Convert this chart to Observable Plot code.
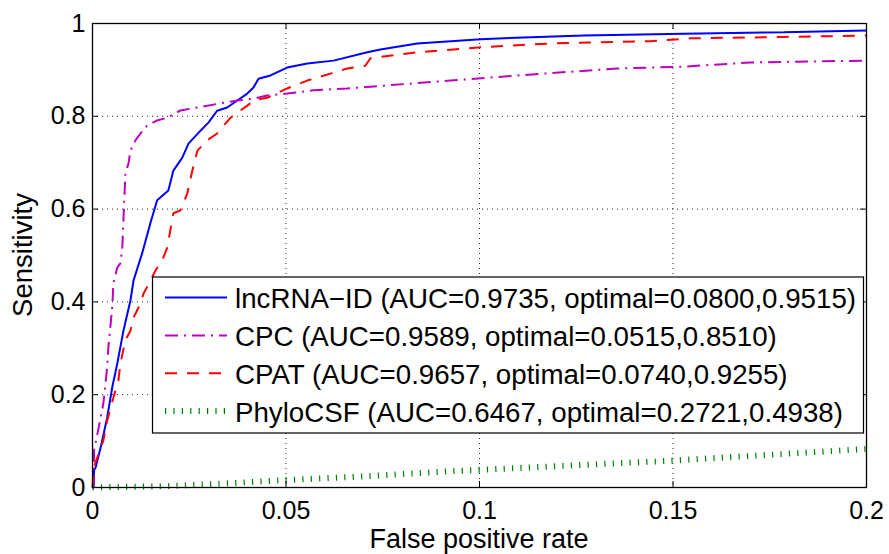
<!DOCTYPE html>
<html>
<head>
<meta charset="utf-8">
<script src="https://cdn.jsdelivr.net/npm/d3@7"></script>
<script src="https://cdn.jsdelivr.net/npm/@observablehq/plot@0.6"></script>
<style>
  html, body { margin: 0; padding: 0; background: #fff; }
  #chart { position: relative; width: 889px; height: 554px; }
</style>
</head>
<body>
<div id="chart"></div>
<script>
// ---- data ----
const seriesNames = ["lncRNA−ID (AUC=0.9735, optimal=0.0800,0.9515)",
                     "CPC (AUC=0.9589, optimal=0.0515,0.8510)",
                     "CPAT (AUC=0.9657, optimal=0.0740,0.9255)",
                     "PhyloCSF (AUC=0.6467, optimal=0.2721,0.4938)"];
const seriesKeys = ["lncRNA-ID", "CPC", "CPAT", "PhyloCSF"];

const fprLnc = [0, 0.0003, 0.0004, 0.0008, 0.0021, 0.0038, 0.0051, 0.0064, 0.0080, 0.0098, 0.0106, 0.0128, 0.0150, 0.0167, 0.0196, 0.0209, 0.0232, 0.0248, 0.0279, 0.0300, 0.0322, 0.0348, 0.0374, 0.0400, 0.0416, 0.0429, 0.0460, 0.0503, 0.0555, 0.0623, 0.0710, 0.0744, 0.0839, 0.1003, 0.1114, 0.1269, 0.1527, 0.1786, 0.2];
const tprLnc = [0, 0.001, 0.037, 0.043, 0.086, 0.151, 0.216, 0.267, 0.338, 0.403, 0.446, 0.504, 0.571, 0.619, 0.640, 0.683, 0.711, 0.741, 0.769, 0.787, 0.812, 0.819, 0.834, 0.849, 0.862, 0.881, 0.888, 0.905, 0.914, 0.920, 0.938, 0.944, 0.957, 0.966, 0.970, 0.974, 0.978, 0.981, 0.985];

const fprCpc = [0, 0.0003, 0.0004, 0.0016, 0.0028, 0.0038, 0.0041, 0.0051, 0.0054, 0.0064, 0.0072, 0.0077, 0.0085, 0.0093, 0.0098, 0.0111, 0.0124, 0.0141, 0.0167, 0.0193, 0.0227, 0.0271, 0.0331, 0.0374, 0.0416, 0.0451, 0.0503, 0.0571, 0.0658, 0.0752, 0.0925, 0.1097, 0.1356, 0.1527, 0.170, 0.2];
const tprCpc = [0, 0.0, 0.080, 0.129, 0.181, 0.259, 0.302, 0.388, 0.440, 0.474, 0.483, 0.517, 0.677, 0.698, 0.726, 0.748, 0.763, 0.780, 0.791, 0.797, 0.8125, 0.819, 0.828, 0.834, 0.838, 0.845, 0.849, 0.856, 0.860, 0.866, 0.877, 0.888, 0.903, 0.907, 0.916, 0.920];

const fprCpat = [0, 0.0003, 0.0016, 0.0028, 0.0038, 0.0054, 0.0067, 0.0072, 0.0085, 0.0098, 0.0106, 0.0119, 0.0132, 0.0150, 0.0163, 0.0180, 0.0193, 0.0209, 0.0227, 0.0245, 0.0258, 0.0271, 0.0296, 0.0322, 0.0339, 0.0357, 0.0382, 0.0400, 0.0416, 0.0451, 0.0503, 0.0555, 0.0615, 0.0658, 0.0705, 0.0718, 0.0839, 0.1010, 0.1183, 0.1442, 0.1545, 0.1786, 0.2];
const tprCpat = [0, 0.043, 0.073, 0.101, 0.144, 0.194, 0.231, 0.267, 0.317, 0.338, 0.366, 0.388, 0.418, 0.446, 0.468, 0.489, 0.517, 0.591, 0.597, 0.634, 0.683, 0.726, 0.748, 0.763, 0.780, 0.797, 0.8125, 0.823, 0.834, 0.840, 0.860, 0.877, 0.892, 0.903, 0.909, 0.925, 0.938, 0.949, 0.957, 0.962, 0.968, 0.971, 0.974];

const fprPhylo = [0, 0.005, 0.02, 0.03, 0.04, 0.05, 0.06, 0.07, 0.08, 0.09, 0.1, 0.11, 0.12, 0.13, 0.14, 0.15, 0.16, 0.17, 0.18, 0.19, 0.2];
const tprPhylo = [0, 0.001, 0.003, 0.007, 0.011, 0.016, 0.020, 0.024, 0.029, 0.034, 0.038, 0.042, 0.046, 0.050, 0.054, 0.058, 0.063, 0.068, 0.073, 0.078, 0.083];

const xTicks = [0, 0.05, 0.1, 0.15, 0.2];
const xTickLabels = ["0", "0.05", "0.1", "0.15", "0.2"];
const yTicks = [0, 0.2, 0.4, 0.6, 0.8, 1];
const yTickLabels = ["0", "0.2", "0.4", "0.6", "0.8", "1"];
const xLabel = "False positive rate";
const yLabel = "Sensitivity";

// ---- styles ----
const colors = ["#0000ff", "#bf00bf", "#ff0000", "#008000"];
const dashes = [null, "13,6,2,6", "12,10", "1.2,7.2"];
const widths = [2, 2, 2, 6];

const toRows = (xs, ys, key) => xs.map((x, i) => ({x, y: ys[i], key}));
const lineData = [
  toRows(fprLnc, tprLnc, seriesKeys[0]),
  toRows(fprCpc, tprCpc, seriesKeys[1]),
  toRows(fprCpat, tprCpat, seriesKeys[2]),
  toRows(fprPhylo, tprPhylo, seriesKeys[3])
];

const W = 889, H = 554, mL = 92, mR = 23, mT = 23, mB = 67;
const innerW = W - mL - mR, innerH = H - mT - mB;
const font = "'Liberation Sans', Arial, Helvetica, sans-serif";

const plot = Plot.plot({
  width: W, height: H,
  marginLeft: mL, marginRight: mR, marginTop: mT, marginBottom: mB,
  x: {domain: [0, 0.2]},
  y: {domain: [0, 1]},
  style: {fontFamily: font, fontSize: "25px", color: "black", background: "white", overflow: "visible"},
  marks: [
    Plot.gridX(xTicks.slice(1, -1), {stroke: "black", strokeOpacity: 0.85, strokeDasharray: "1,4"}),
    Plot.gridY(yTicks.slice(1, -1), {stroke: "black", strokeOpacity: 0.85, strokeDasharray: "1,4"}),
    ...lineData.map((d, i) => Plot.line(d, {
      x: "x", y: "y", stroke: colors[i], strokeWidth: widths[i],
      strokeDasharray: dashes[i], strokeLinecap: "butt", strokeLinejoin: "miter"
    })),
    Plot.tickX(xTicks, {x: d => d, insetTop: innerH - 6, stroke: "black"}),
    Plot.tickX(xTicks, {x: d => d, insetBottom: innerH - 6, stroke: "black"}),
    Plot.tickY(yTicks, {y: d => d, insetRight: innerW - 6, stroke: "black"}),
    Plot.tickY(yTicks, {y: d => d, insetLeft: innerW - 6, stroke: "black"}),
    Plot.frame({stroke: "black", strokeWidth: 1.3}),
    Plot.axisX(xTicks, {tickSize: 0, tickPadding: 13.5, label: null,
      tickFormat: d => xTickLabels[xTicks.indexOf(d)]}),
    Plot.axisY(yTicks, {tickSize: 0, tickPadding: 7, label: null,
      tickFormat: d => yTickLabels[yTicks.indexOf(d)]})
  ]
});

document.getElementById("chart").appendChild(plot);

// axis titles
const svg = d3.select(plot);
svg.append("text")
  .attr("x", mL + innerW / 2).attr("y", 548)
  .attr("text-anchor", "middle")
  .style("font-family", font).style("font-size", "27px").attr("fill", "black")
  .text(xLabel);
svg.append("text")
  .attr("transform", `translate(32,${mT + innerH / 2}) rotate(-90)`)
  .attr("text-anchor", "middle")
  .style("font-family", font).style("font-size", "27.5px").attr("fill", "black")
  .text(yLabel);

// legend (inside plot, lower middle)
const lg = svg.append("g").attr("text-anchor", "start");
lg.append("rect")
  .attr("x", 152.5).attr("y", 277).attr("width", 711).attr("height", 156)
  .attr("fill", "white").attr("stroke", "black").attr("stroke-width", 1.2);
const rowY = [297.5, 335.5, 373.3, 411];
seriesNames.forEach((name, i) => {
  const ln = lg.append("line")
    .attr("x1", 165).attr("x2", 227).attr("y1", rowY[i]).attr("y2", rowY[i])
    .attr("stroke", colors[i]).attr("stroke-width", widths[i]);
  if (dashes[i]) ln.attr("stroke-dasharray", dashes[i]);
  lg.append("text")
    .attr("x", 235).attr("y", rowY[i] + 10.5)
    .attr("text-anchor", "start")
    .style("font-family", font).style("font-size", "27.7px").attr("fill", "black")
    .text(name);
});
</script>
</body>
</html>
